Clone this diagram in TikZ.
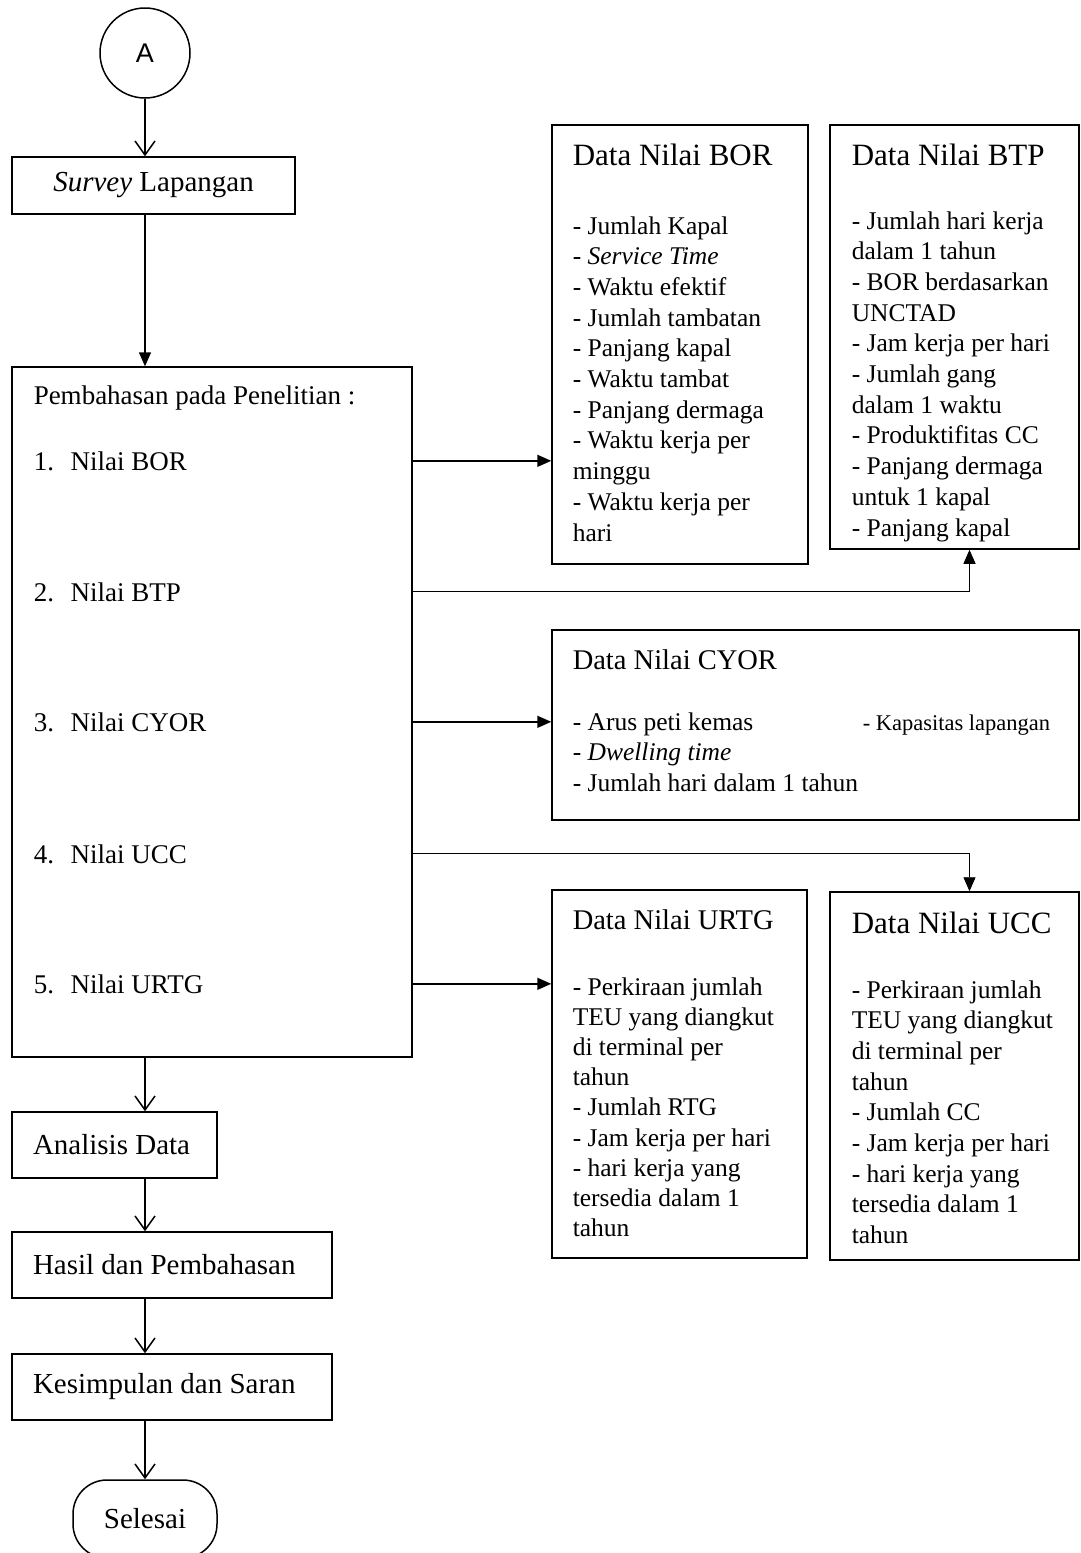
\documentclass[tikz,border=0pt]{standalone}
\usepackage{fontspec}
\setmainfont{Liberation Serif}
\newfontfamily\hurufsans{Liberation Sans}
\usetikzlibrary{arrows.meta}

\begin{document}
\begin{tikzpicture}[x=1pt,y=-1pt,line width=1.5pt,
kotak/.style={draw,inner sep=0pt},
alur/.style={kotak,align=flush left,inner xsep=21pt,minimum height=66,font=\fontsize{29}{34}\selectfont},
judul/.style={anchor=base west,inner sep=0pt,font=\fontsize{31}{36}\selectfont},
isi/.style={anchor=base west,inner sep=0pt,align=left,font=\fontsize{25.5}{30.7}\selectfont},
panah/.style={-{Straight Barb[length=14pt,width=20pt]}},
panahp/.style={-{Triangle[length=14pt,width=12pt]}}]
\useasboundingbox (0,0) rectangle (1080,1553);

% alur utama
\node[draw,circle,minimum size=90,inner sep=0pt,font=\hurufsans\fontsize{27}{30}\selectfont] (a) at (145,53) {A};
\node[kotak,minimum width=283,minimum height=57,font=\fontsize{29}{34}\selectfont] (survey) at (153.5,185.5) {\textit{Survey} Lapangan};
\node[kotak,minimum width=400,minimum height=690] (bahas) at (212,712) {};
\node[anchor=base west,inner sep=0pt,font=\fontsize{27}{31}\selectfont] (bahasjudul) at (33,404) {Pembahasan pada Penelitian :};
\foreach \n/\t/\y in {1/BOR/470,2/BTP/601,3/CYOR/731,4/UCC/863,5/URTG/993}
\node[anchor=base west,inner sep=0pt,font=\fontsize{27}{31}\selectfont] (nilai\n) at (33,\y) {\makebox[37pt][l]{\n.}Nilai \t};
\node[alur,text width=163] (analisis) at (114.5,1145) {Analisis Data};
\node[alur,text width=278] (hasil) at (172,1265) {Hasil dan Pembahasan};
\node[alur,text width=278] (simpulan) at (172,1387) {Kesimpulan dan Saran};
\node[kotak,rounded corners=34pt,minimum width=144,minimum height=78,font=\fontsize{29}{34}\selectfont] (selesai) at (145,1519) {Selesai};

% kotak data (isi ditaruh pada garis dasar baris terakhir)
\node[kotak,minimum width=256,minimum height=439] (bor) at (680,344.5) {};
\node[judul] (borjudul) at (572,165) {Data Nilai BOR};
\node[isi] (borisi) at (572,541) {- Jumlah Kapal\\- \textit{Service Time}\\- Waktu efektif\\- Jumlah tambatan\\- Panjang kapal\\- Waktu tambat\\- Panjang dermaga\\- Waktu kerja per\\minggu\\- Waktu kerja per\\hari};

\node[kotak,minimum width=249,minimum height=424] (btp) at (954.5,337) {};
\node[judul] (btpjudul) at (851,165) {Data Nilai BTP};
\node[isi] (btpisi) at (851,536) {- Jumlah hari kerja\\dalam 1 tahun\\- BOR berdasarkan\\UNCTAD\\- Jam kerja per hari\\- Jumlah gang\\dalam 1 waktu\\- Produktifitas CC\\- Panjang dermaga\\untuk 1 kapal\\- Panjang kapal};

\node[kotak,minimum width=527,minimum height=190] (cyor) at (815.5,725) {};
\node[judul,font=\fontsize{28.5}{33}\selectfont] (cyorjudul) at (572,669) {Data Nilai CYOR};
\node[isi] (cyorisi) at (572,791.4) {- Arus peti kemas\\- \textit{Dwelling time}\\- Jumlah hari dalam 1 tahun};
\node[isi,font=\fontsize{22.5}{27}\selectfont] (kapasitas) at (862,730) {- Kapasitas lapangan};

\node[kotak,minimum width=255,minimum height=368] (urtg) at (679.5,1074) {};
\node[judul,font=\fontsize{28.5}{33}\selectfont] (urtgjudul) at (572,929) {Data Nilai URTG};
\node[isi,font=\fontsize{25.5}{30.2}\selectfont] (urtgisi) at (572,1236.6) {- Perkiraan jumlah\\TEU yang diangkut\\di terminal per\\tahun\\- Jumlah RTG\\- Jam kerja per hari\\- hari kerja yang\\tersedia dalam 1\\tahun};

\node[kotak,minimum width=249,minimum height=368] (ucc) at (954.5,1076) {};
\node[judul] (uccjudul) at (851,933) {Data Nilai UCC};
\node[isi] (uccisi) at (851,1243.6) {- Perkiraan jumlah\\TEU yang diangkut\\di terminal per\\tahun\\- Jumlah CC\\- Jam kerja per hari\\- hari kerja yang\\tersedia dalam 1\\tahun};

% panah
\draw[panah] (a) -- (a |- survey.north);
\draw[panahp] (survey.south -| a) -- (bahas.north -| a);
\draw[panahp] (nilai1 -| bahas.east) -- (nilai1 -| bor.west);
\draw[panahp,line width=0.9pt] (nilai2 -| bahas.east) -| ([xshift=15pt]btp.south);
\draw[panahp] (nilai3 -| bahas.east) -- (nilai3 -| cyor.west);
\draw[panahp,line width=0.9pt] (nilai4 -| bahas.east) -| ([xshift=15pt]ucc.north);
\draw[panahp] (nilai5 -| bahas.east) -- (nilai5 -| urtg.west);
\draw[panah] (bahas.south -| a) -- (analisis.north -| a);
\draw[panah] (analisis.south -| a) -- (hasil.north -| a);
\draw[panah] (hasil.south -| a) -- (simpulan.north -| a);
\draw[panah] (simpulan.south -| a) -- (selesai.north -| a);
\end{tikzpicture}
\end{document}
